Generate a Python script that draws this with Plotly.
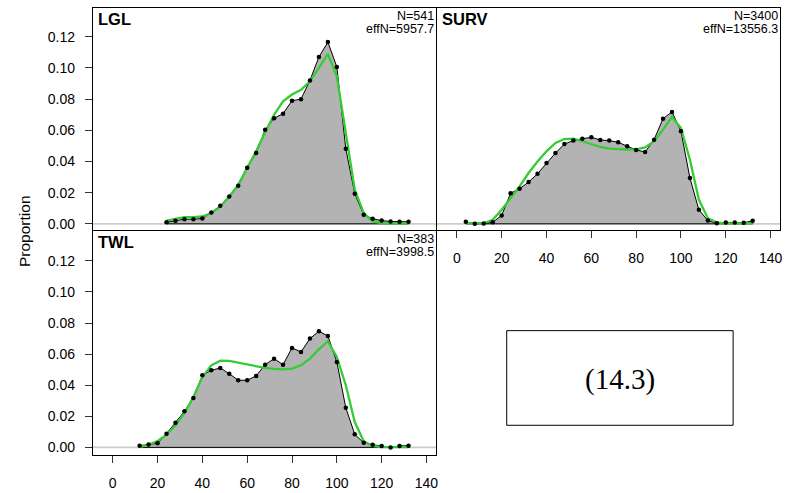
import plotly.graph_objects as go

# ---------------- data ----------------
lgl_bins = list(range(24, 133, 4))
lgl_obs = [0.0010, 0.0020, 0.0030, 0.0030, 0.0034, 0.0073, 0.0116, 0.0176, 0.0244, 0.0360,
           0.0454, 0.0604, 0.0677, 0.0707, 0.0790, 0.0800, 0.0920, 0.1070, 0.1166, 0.1007,
           0.0482, 0.0193, 0.0058, 0.0032, 0.0021, 0.0015, 0.0013, 0.0013]
lgl_exp = [0.0020, 0.0030, 0.0043, 0.0043, 0.0047, 0.0069, 0.0110, 0.0176, 0.0250, 0.0360,
           0.0465, 0.0587, 0.0700, 0.0786, 0.0830, 0.0860, 0.0915, 0.1000, 0.1090, 0.0947,
           0.0583, 0.0219, 0.0069, 0.0015, 0.0004, 0.0002, 0.0002, 0.0002]

surv_bins = list(range(4, 133, 4))
surv_obs = [0.0013, 0.0000, 0.0002, 0.0010, 0.0054, 0.0197, 0.0225, 0.0268, 0.0321, 0.0390,
            0.0454, 0.0512, 0.0534, 0.0546, 0.0555, 0.0538, 0.0534, 0.0523, 0.0497, 0.0474,
            0.0461, 0.0540, 0.0675, 0.0718, 0.0594, 0.0294, 0.0090, 0.0021, 0.0004, 0.0009,
            0.0009, 0.0007, 0.0019]
surv_exp = [0.0004, 0.0002, 0.0004, 0.0026, 0.0090, 0.0165, 0.0240, 0.0326, 0.0400, 0.0465,
            0.0519, 0.0544, 0.0546, 0.0530, 0.0512, 0.0493, 0.0482, 0.0478, 0.0476, 0.0478,
            0.0490, 0.0530, 0.0604, 0.0686, 0.0615, 0.0411, 0.0154, 0.0036, 0.0009, 0.0002,
            0.0002, 0.0002, 0.0004]

twl_bins = list(range(12, 133, 4))
twl_obs = [0.0011, 0.0019, 0.0026, 0.0088, 0.0159, 0.0232, 0.0318, 0.0464, 0.0496, 0.0511,
           0.0474, 0.0432, 0.0432, 0.0460, 0.0532, 0.0571, 0.0532, 0.0640, 0.0614, 0.0700,
           0.0747, 0.0717, 0.0550, 0.0255, 0.0084, 0.0030, 0.0017, 0.0009, 0.0000, 0.0009,
           0.0011]
twl_exp = [0.0002, 0.0017, 0.0040, 0.0082, 0.0142, 0.0221, 0.0324, 0.0453, 0.0528, 0.0558,
           0.0556, 0.0545, 0.0535, 0.0524, 0.0511, 0.0505, 0.0502, 0.0507, 0.0528, 0.0571,
           0.0631, 0.0683, 0.0582, 0.0400, 0.0163, 0.0039, 0.0009, 0.0002, 0.0001, 0.0001,
           0.0001]

panels = [
    ("LGL", "N=541", "effN=5957.7", lgl_bins, lgl_obs, lgl_exp),
    ("SURV", "N=3400", "effN=13556.3", surv_bins, surv_obs, surv_exp),
    ("TWL", "N=383", "effN=3998.5", twl_bins, twl_obs, twl_exp),
]
y_tickvals = [0, 0.02, 0.04, 0.06, 0.08, 0.10, 0.12]
y_ticktext = ["0.00", "0.02", "0.04", "0.06", "0.08", "0.10", "0.12"]
x_tickvals = [0, 20, 40, 60, 80, 100, 120, 140]
y_label = "Proportion"
box_text = "(14.3)"

# ---------------- layout geometry ----------------
W, H = 789, 493
def px(x):
    return x / W
def py(y):
    return 1 - y / H

FONT = "Liberation Sans, Arial, sans-serif"
GREEN = "#33cc33"
GREY = "#b3b3b3"

xdom = [[px(93), px(437)], [px(438), px(782)], [px(93), px(437)]]
ydom = [[py(231), py(8)], [py(231), py(8)], [py(457), py(232)]]
xr = [-8.9, 144.2]
yr_top = [-0.0040, 0.1385]
yr_bot = [-0.0050, 0.1392]

fig = go.Figure()

for i, (name, ntxt, efftxt, bins, obs, exp) in enumerate(panels):
    sfx = "" if i == 0 else str(i + 1)
    xa, ya = "x" + sfx, "y" + sfx
    # filled polygon of observed
    fig.add_trace(go.Scatter(
        x=bins + [bins[-1], bins[0]], y=obs + [0, 0], xaxis=xa, yaxis=ya,
        mode="lines", fill="toself", fillcolor=GREY,
        line=dict(color="black", width=1), hoverinfo="skip", showlegend=False))
    # expected (fit)
    fig.add_trace(go.Scatter(
        x=bins, y=exp, xaxis=xa, yaxis=ya, mode="lines",
        line=dict(color=GREEN, width=2.3), showlegend=False))
    # observed points
    fig.add_trace(go.Scatter(
        x=bins, y=obs, xaxis=xa, yaxis=ya, mode="markers",
        marker=dict(color="black", size=4.5), showlegend=False))
    # zero reference line
    fig.add_shape(type="line", xref=xa + " domain", yref=ya, x0=0, x1=1, y0=0, y1=0,
                  line=dict(color="#cccccc", width=1.6), layer="below")
    # labels
    x0d, x1d = xdom[i]
    ytop = ydom[i][1]
    fig.add_annotation(x=x0d + px(3), y=ytop, xref="paper", yref="paper",
                       text="<b>" + name + "</b>", showarrow=False, xanchor="left",
                       yanchor="top", font=dict(family=FONT, size=16.5, color="black"))
    fig.add_annotation(x=x1d - px(1), y=ytop - 8 / H, xref="paper", yref="paper",
                       text=ntxt, showarrow=False, xanchor="right", yanchor="middle",
                       borderpad=0,
                       font=dict(family=FONT, size=12.5, color="black"))
    fig.add_annotation(x=x1d - px(1), y=ytop - 21 / H, xref="paper", yref="paper",
                       text=efftxt, showarrow=False, xanchor="right", yanchor="middle",
                       borderpad=0,
                       font=dict(family=FONT, size=12.5, color="black"))

axis_common = dict(showgrid=False, zeroline=False, showline=True, mirror=True,
                   linecolor="black", linewidth=1,
                   tickfont=dict(family=FONT, size=14, color="black"))

layout = dict(width=W, height=H, margin=dict(l=0, r=0, t=0, b=0),
              plot_bgcolor="white", paper_bgcolor="white", showlegend=False)

for i in range(3):
    sfx = "" if i == 0 else str(i + 1)
    xkey, ykey = "xaxis" + sfx, "yaxis" + sfx
    xa = dict(axis_common, domain=xdom[i], range=xr, anchor="y" + sfx)
    ya = dict(axis_common, domain=ydom[i], range=(yr_bot if i == 2 else yr_top),
              anchor="x" + sfx)
    if i in (1, 2):
        xa.update(tickmode="array", tickvals=x_tickvals, ticks="outside", ticklen=7,
                  tickcolor="#333", tickwidth=1, showticklabels=True, ticklabelstandoff=8)
    else:
        xa.update(ticks="", showticklabels=False)
    if i in (0, 2):
        ya.update(tickmode="array", tickvals=y_tickvals, ticktext=y_ticktext,
                  ticks="outside", ticklen=7, tickcolor="#333", tickwidth=1,
                  showticklabels=True, ticklabelstandoff=7)
    else:
        ya.update(ticks="", showticklabels=False)
    layout[xkey] = xa
    layout[ykey] = ya

fig.update_layout(**layout)

fig.add_annotation(x=px(24), y=py(232), xref="paper", yref="paper", text=y_label,
                   showarrow=False, textangle=-90, xanchor="center", yanchor="middle",
                   font=dict(family=FONT, size=15.5, color="black"))

# box with text
fig.add_shape(type="rect", xref="paper", yref="paper", x0=px(508), x1=px(735),
              y0=py(427), y1=py(332), line=dict(color="black", width=1))
fig.add_annotation(x=px(621.5), y=py(381), xref="paper", yref="paper", text=box_text,
                   showarrow=False, xanchor="center", yanchor="middle",
                   font=dict(family="Liberation Serif, Times New Roman, serif", size=29,
                             color="black"))

fig.write_html("out.html")
